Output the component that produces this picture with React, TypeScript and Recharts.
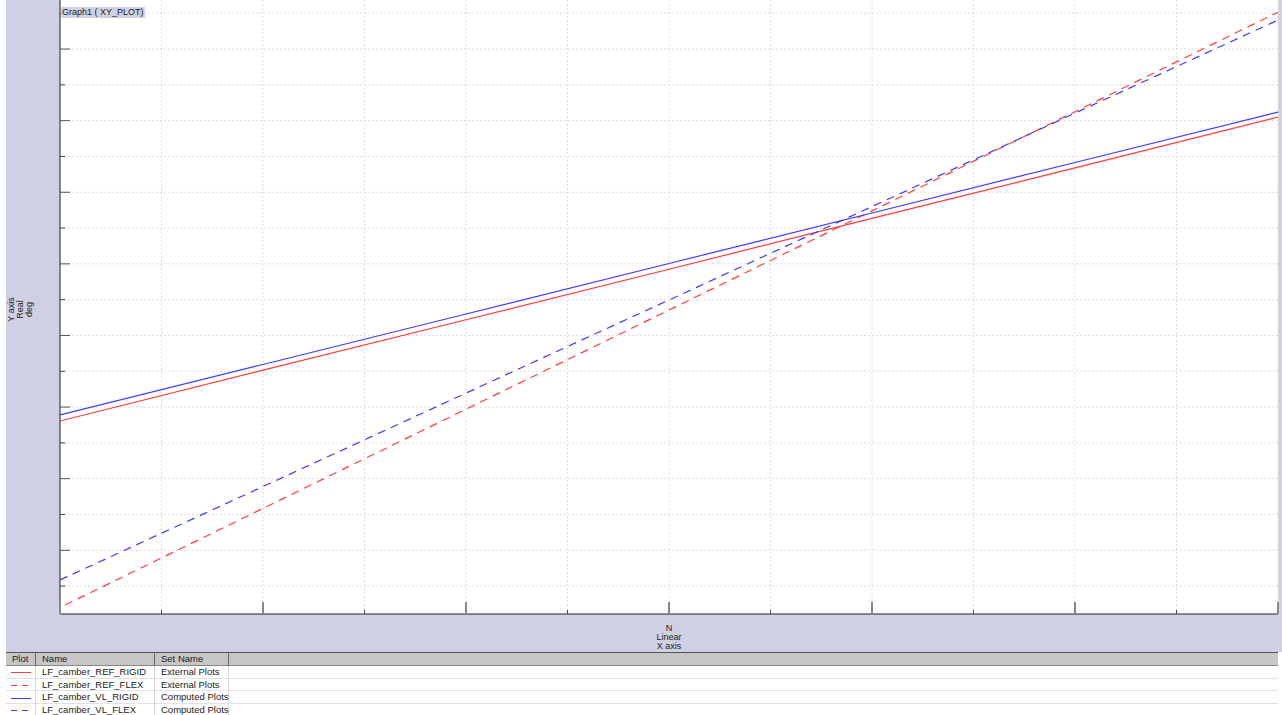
import { LineChart, Line, XAxis, YAxis, CartesianGrid } from "recharts";

// x positions (grid units) and values
const xPoints = [0, 2, 4, 6, 8, 10, 12];
const refFlexX = [0.05, 2, 4, 6, 8, 10, 12];

const refRigid = [4.61, 6.03, 7.44, 8.85, 10.27, 11.68, 13.1];
const refFlex = [-0.53, 2.17, 4.94, 7.71, 10.48, 13.25, 16.03];
const vlRigid = [4.78, 6.19, 7.6, 9.01, 10.42, 11.83, 13.24];
const vlFlex = [0.17, 2.78, 5.39, 7.99, 10.6, 13.21, 15.81];

const xTicks = [0, 1, 2, 3, 4, 5, 6, 7, 8, 9, 10, 11, 12];
const yTicks = [0, 1, 2, 3, 4, 5, 6, 7, 8, 9, 10, 11, 12, 13, 14, 15, 16];

const RED = "#ff3b3b";
const BLUE = "#3b3bff";
const LAV = "#d0d0e5";
const FONT = '"Liberation Sans", Arial, Helvetica, sans-serif';

const series = [
  { key: "ref_rigid", name: "LF_camber_REF_RIGID", set: "External Plots", color: RED, dash: undefined, xs: xPoints, ys: refRigid },
  { key: "ref_flex", name: "LF_camber_REF_FLEX", set: "External Plots", color: RED, dash: "8 6", xs: refFlexX, ys: refFlex },
  { key: "vl_rigid", name: "LF_camber_VL_RIGID", set: "Computed Plots", color: BLUE, dash: undefined, xs: xPoints, ys: vlRigid },
  { key: "vl_flex", name: "LF_camber_VL_FLEX", set: "Computed Plots", color: BLUE, dash: "8 6", xs: xPoints, ys: vlFlex },
];

// ticks point into the plot, alternating long / short
const XTick = (props: any) => {
  const { x, payload } = props;
  const major = payload.value % 2 === 0;
  const y = 614;
  return (
    <line x1={x} x2={x} y1={y} y2={y - (major ? 12 : 4)} stroke={major ? "#888" : "#444"} strokeWidth={major ? 2 : 1} />
  );
};

const YTick = (props: any) => {
  const { y, payload } = props;
  const major = payload.value % 2 === 1;
  const x = 54;
  return (
    <line x1={x} x2={x + (major ? 10 : 5)} y1={y} y2={y} stroke={major ? "#555" : "#444"} strokeWidth={1} />
  );
};

export default function App() {
  const cols = [
    { left: 0, width: 30, label: "Plot" },
    { left: 30, width: 119, label: "Name" },
    { left: 149, width: 74, label: "Set Name" },
    { left: 223, width: 1049, label: "" },
  ];
  const rowH = 12.6;
  return (
    <div style={{ position: "absolute", left: 0, top: 0, width: 1282, height: 715, background: "#fff", overflow: "hidden", fontFamily: FONT }}>
      <div style={{ position: "absolute", left: 6, top: 0, width: 1276, height: 652, background: LAV }}>
        <LineChart width={1276} height={652} margin={{ top: 0, right: 4, bottom: 28, left: 44 }}>
          <CartesianGrid fill="#fff" stroke="#dedede" strokeDasharray="2 2" horizontalValues={yTicks} verticalValues={xTicks} />
          <XAxis
            type="number"
            dataKey="x"
            domain={[0, 12]}
            ticks={xTicks}
            height={10}
            tickSize={0}
            tickMargin={0}
            tick={XTick}
            axisLine={{ stroke: "#222" }}
            interval={0}
            allowDataOverflow
          />
          <YAxis
            type="number"
            domain={[-0.78, 16.37]}
            ticks={yTicks}
            width={10}
            tickSize={0}
            tickMargin={0}
            tick={YTick}
            axisLine={{ stroke: "#222" }}
            interval={0}
            allowDataOverflow
          />
          {series.map((s) => (
            <Line
              key={s.key}
              data={s.xs.map((x, i) => ({ x, y: s.ys[i] }))}
              dataKey="y"
              type="linear"
              stroke={s.color}
              strokeWidth={1.2}
              strokeDasharray={s.dash}
              dot={false}
              activeDot={false}
              isAnimationActive={false}
            />
          ))}
        </LineChart>
      </div>

      <div style={{ position: "absolute", left: 61, top: 7, fontSize: 9, lineHeight: "11px", background: LAV, color: "#222", padding: "0 1px" }}>
        Graph1 ( XY_PLOT)
      </div>

      <div
        style={{
          position: "absolute",
          left: -10,
          top: 296,
          width: 60,
          height: 27,
          transform: "rotate(-90deg)",
          textAlign: "center",
          fontSize: 9,
          lineHeight: "9px",
          color: "#222",
        }}
      >
        <div>Y axis</div>
        <div>Real</div>
        <div>deg</div>
      </div>

      <div style={{ position: "absolute", left: 629, top: 624, width: 80, textAlign: "center", fontSize: 9, lineHeight: "9px", color: "#222" }}>
        <div>N</div>
        <div>Linear</div>
        <div>X axis</div>
      </div>

      <div style={{ position: "absolute", left: 6, top: 652, width: 1272, height: 63, fontSize: 9.5, color: "#222" }}>
        <div style={{ position: "absolute", left: 0, top: 0, width: 1272, height: 14, background: "#c6c6c6", borderTop: "1px solid #555", borderBottom: "1px solid #888", boxSizing: "border-box" }} />
        {cols.map((c, i) => (
          <div
            key={"h" + i}
            style={{
              position: "absolute",
              left: c.left,
              top: 0,
              width: c.width,
              height: 14,
              lineHeight: "14px",
              paddingLeft: 6,
              boxSizing: "border-box",
              borderRight: i < 3 ? "1px solid #666" : "none",
            }}
          >
            {c.label}
          </div>
        ))}
        <svg width={30} height={63} style={{ position: "absolute", left: 0, top: 0 }}>
          {series.map((s, r) => {
            const y = Math.round(14 + r * rowH + rowH / 2) + 0.5;
            return (
              <line key={s.key} x1={5} x2={25} y1={y} y2={y} stroke={s.color} strokeWidth={1} strokeDasharray={s.dash ? "6 5" : undefined} />
            );
          })}
        </svg>
        {series.map((s, r) => (
          <div key={s.key} style={{ position: "absolute", left: 0, top: 14 + r * rowH, width: 1272, height: rowH, borderBottom: "1px solid #e2e2e2", boxSizing: "border-box" }}>
            {cols.slice(0, 3).map((c, i) => (
              <div
                key={i}
                style={{
                  position: "absolute",
                  left: c.left,
                  top: 0,
                  width: c.width,
                  height: rowH,
                  lineHeight: "12px",
                  paddingLeft: 6,
                  boxSizing: "border-box",
                  borderRight: "1px solid #d8d8d8",
                  whiteSpace: "nowrap",
                }}
              >
                {i === 1 ? s.name : i === 2 ? s.set : ""}
              </div>
            ))}
          </div>
        ))}
      </div>
    </div>
  );
}
